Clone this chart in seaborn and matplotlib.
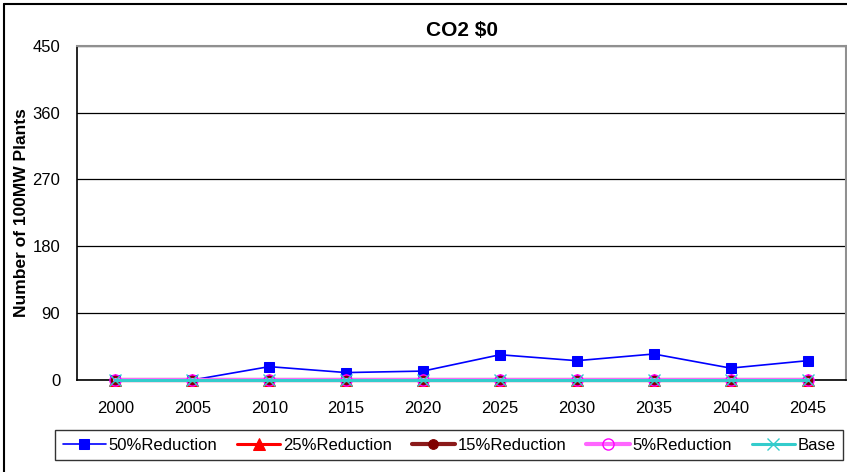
import numpy as np
import pandas as pd
import matplotlib
matplotlib.use("Agg")
import matplotlib.pyplot as plt
from matplotlib.lines import Line2D
import seaborn as sns

# Data
years = ["2000", "2005", "2010", "2015", "2020", "2025", "2030", "2035", "2040", "2045"]
reduction_50 = [0, 0, 18, 10, 12, 34, 26, 35, 16, 26]
reduction_25 = [0, 0, 0, 0, 0, 0, 0, 0, 0, 0]
reduction_15 = [0, 0, 0, 0, 0, 0, 0, 0, 0, 0]
reduction_5 = [0, 0, 0, 0, 0, 0, 0, 0, 0, 0]
base = [0, 0, 0, 0, 0, 0, 0, 0, 0, 0]
y_ticks = [0, 90, 180, 270, 360, 450]

sns.set_style("white")
plt.rcParams["font.family"] = ["Liberation Sans", "DejaVu Sans"]
plt.rcParams.update({"text.color": "black", "axes.labelcolor": "black",
                     "xtick.color": "black", "ytick.color": "black"})

W, H = 847, 472
fig = plt.figure(figsize=(W / 100, H / 100), dpi=100)
ax = fig.add_axes([77 / W, 1 - 380 / H, (846 - 77) / W, (380 - 45.7) / H])

pos = np.arange(len(years))

series = [
    ("50%Reduction", reduction_50, dict(color="#0000FF", linewidth=1.2, marker="s",
                                        markersize=6.5, markeredgecolor="#0000FF",
                                        markerfacecolor="#0000FF")),
    ("25%Reduction", reduction_25, dict(color="#FF0000", linewidth=2.2, marker="^",
                                        markersize=8, markeredgecolor="#FF0000",
                                        markerfacecolor="#FF0000")),
    ("15%Reduction", reduction_15, dict(color="#8B1A1A", linewidth=3.0, marker="o",
                                        markersize=7, markeredgecolor="#800000",
                                        markerfacecolor="#800000")),
    ("5%Reduction", reduction_5, dict(color="#FF66FF", linewidth=3.0, marker="o",
                                      markersize=8, markeredgecolor="#FF00FF",
                                      markerfacecolor="none", markeredgewidth=1.0)),
    ("Base", base, dict(color="#33CCCC", linewidth=2.2, marker="x",
                        markersize=8, markeredgecolor="#33CCCC", markeredgewidth=1.0)),
]

for name, vals, style in series:
    df = pd.DataFrame({"pos": pos, "value": vals})
    sns.lineplot(data=df, x="pos", y="value", ax=ax, label=name,
                 clip_on=False, zorder=3, **style)

# Axes styling
ax.set_xlim(-0.5, len(years) - 0.5)
ax.set_ylim(0, 450)
ax.set_yticks(y_ticks)
ax.set_yticklabels([str(v) for v in y_ticks])
ax.set_xticks(np.arange(-0.5, len(years), 1.0))
ax.set_xticklabels([])
ax.set_xticks(pos, minor=True)
ax.set_xticklabels(years, minor=True)
ax.tick_params(axis="x", which="major", direction="out", length=5, width=1, color="black")
ax.tick_params(axis="x", which="minor", length=0, pad=15, labelsize=12)
ax.tick_params(axis="y", direction="out", length=5, width=1, color="black",
               pad=7, labelsize=12)
ax.set_xlabel("")
ax.set_ylabel("Number of 100MW Plants", fontsize=12.5, fontweight="bold")
ax.yaxis.set_label_coords(-48 / (846 - 77), 0.5)

ax.grid(axis="y", color="black", linewidth=0.9)
ax.set_axisbelow(True)
for side in ["left", "bottom"]:
    ax.spines[side].set_color("black")
    ax.spines[side].set_linewidth(1.2)
for side in ["top", "right"]:
    ax.spines[side].set_visible(True)
    ax.spines[side].set_color("#909090")
    ax.spines[side].set_linewidth(1.5)

ax.set_title("CO2 $0", fontsize=15, fontweight="bold", pad=7)

# Legend along the bottom
handles, labels = ax.get_legend_handles_labels()
ax.get_legend().remove()
leg = fig.legend(handles, labels, loc="upper left", ncol=5,
                 bbox_to_anchor=(55 / W, 1 - 430 / H), borderaxespad=0,
                 frameon=True, fancybox=False, fontsize=12,
                 handlelength=2.6, handletextpad=0.15, columnspacing=1.2,
                 borderpad=0.45)
leg.get_frame().set_edgecolor("black")
leg.get_frame().set_linewidth(1.0)

# Outer chart border
fig.add_artist(Line2D([3.5 / W, 3.5 / W], [0, 1 - 4 / H], color="black", linewidth=1.5,
                      transform=fig.transFigure))
fig.add_artist(Line2D([3.5 / W, 1], [1 - 4 / H, 1 - 4 / H], color="black", linewidth=1.5,
                      transform=fig.transFigure))

fig.savefig("out.png", dpi=100)
